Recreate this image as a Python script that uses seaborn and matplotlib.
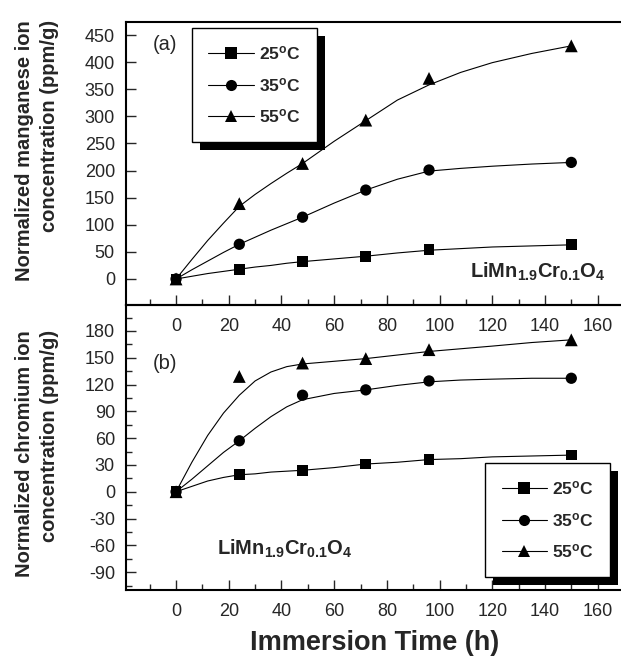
import pandas as pd
import matplotlib
matplotlib.use("Agg")
import matplotlib.pyplot as plt
import matplotlib.patheffects as pe
from matplotlib.lines import Line2D
from matplotlib.ticker import MultipleLocator
import seaborn as sns

# measured points (immersion time in h)
time_h = [0, 24, 48, 72, 96, 150]
mn_25 = [0, 18, 32, 41, 55, 64]
mn_35 = [0, 64, 114, 164, 201, 215]
mn_55 = [0, 139, 213, 293, 370, 430]
cr_25 = [0, 19, 24, 31, 36, 41]
cr_35 = [0, 57, 108, 114, 124, 127]
cr_55 = [0, 129, 144, 149, 159, 170]

# fitted curves
fit_time = [0, 6, 12, 18, 24, 30, 36, 42, 48, 60, 72, 84, 96, 108, 120, 135, 150]
mn_25_fit = [0, 5, 10, 14, 18, 22, 25, 29, 32, 37, 42, 48, 53, 56, 59, 61, 63]
mn_35_fit = [0, 17, 33, 49, 64, 77, 90, 102, 114, 140, 164, 184, 199, 204, 208, 212, 215]
mn_55_fit = [0, 36, 71, 103, 134, 156, 176, 195, 213, 254, 292, 330, 358, 381, 399, 416, 430]
cr_25_fit = [0, 6, 12, 16, 19, 20, 22, 23, 24, 27, 31, 33, 36, 37, 39, 40, 41]
cr_35_fit = [0, 14, 29, 44, 57, 71, 84, 95, 103, 110, 114, 119, 123, 125, 126, 127, 127]
cr_55_fit = [0, 33, 63, 88, 108, 124, 134, 140, 143, 146, 149, 153, 157, 160, 163, 167, 170]

temps = ["25", "35", "55"]
marker_map = {"25": "s", "35": "o", "55": "^"}
size_map = {"25": 60, "35": 66, "55": 85}


def long_df(x, series):
    rows = []
    for t, ys in zip(temps, series):
        for xi, yi in zip(x, ys):
            rows.append({"time": xi, "conc": yi, "temp": t})
    return pd.DataFrame(rows)


mn_pts = long_df(time_h, [mn_25, mn_35, mn_55])
cr_pts = long_df(time_h, [cr_25, cr_35, cr_55])
mn_fit = long_df(fit_time, [mn_25_fit, mn_35_fit, mn_55_fit])
cr_fit = long_df(fit_time, [cr_25_fit, cr_35_fit, cr_55_fit])

sns.set_theme(style="ticks")
plt.rcParams["font.family"] = ["Liberation Sans", "DejaVu Sans"]
plt.rcParams["axes.unicode_minus"] = False
plt.rcParams["mathtext.fontset"] = "custom"
plt.rcParams["mathtext.rm"] = "Liberation Sans"
plt.rcParams["mathtext.bf"] = "Liberation Sans:bold"
plt.rcParams["mathtext.it"] = "Liberation Sans:italic"

W, H = 621, 658
fig = plt.figure(figsize=(W / 100, H / 100), dpi=100)
left = 126 / W
width = (624 - 126) / W
ax_a = fig.add_axes([left, (H - 305) / H, width, 283 / H])
ax_b = fig.add_axes([left, (H - 590) / H, width, 285 / H])
ax_b.patch.set_visible(False)
ax_a.set_zorder(2)
ax_a.patch.set_visible(False)

for ax, pts, fit in [(ax_a, mn_pts, mn_fit), (ax_b, cr_pts, cr_fit)]:
    sns.lineplot(data=fit, x="time", y="conc", units="temp", estimator=None,
                 color="black", lw=0.8, ax=ax, legend=False, sort=False)
    sns.scatterplot(data=pts.iloc[::-1], x="time", y="conc", style="temp", size="temp",
                    markers=marker_map, sizes=size_map, color="black",
                    edgecolor="black", linewidth=0, ax=ax, legend=False, zorder=3)
    ax.set_xlim(-19, 170)
    ax.xaxis.set_major_locator(MultipleLocator(20))
    ax.xaxis.set_minor_locator(MultipleLocator(10))
    ax.tick_params(which="both", direction="in", width=1, labelsize=13,
                   top=False, right=False)
    ax.tick_params(which="major", length=7)
    ax.tick_params(which="minor", length=4)
    ax.tick_params(axis="y", pad=8)
    ax.tick_params(axis="x", pad=9.5)
    ax.set_xlabel("")
    ax.set_ylabel("")
    for s in ["left", "bottom", "top"]:
        ax.spines[s].set_linewidth(1.5)
        ax.spines[s].set_color("black")
    ax.spines["right"].set_visible(False)

ax_a.set_ylim(-48, 474)
ax_a.yaxis.set_major_locator(MultipleLocator(50))
ax_a.yaxis.set_minor_locator(MultipleLocator(50))
ax_b.set_ylim(-110, 209)
ax_b.yaxis.set_major_locator(MultipleLocator(30))
ax_b.yaxis.set_minor_locator(MultipleLocator(15))

# panel tags and compound name
ax_a.text(-8.7, 432, "(a)", fontsize=14.5, va="center", ha="left")
ax_b.text(-9, 144, "(b)", fontsize=14.5, va="center", ha="left")
formula = r"LiMn$_{\mathbf{1.9}}$Cr$_{\mathbf{0.1}}$O$_{\mathbf{4}}$"
ax_a.text(163, 2, formula, fontsize=14.5, fontweight="bold", ha="right", va="baseline")
ax_b.text(15.5, -70, formula, fontsize=14.5, fontweight="bold", ha="left", va="baseline")

# legends with a solid black drop shadow
handles = [Line2D([], [], color="black", lw=0.8, marker=marker_map[t],
                  markersize=9 if t == "55" else 8, markeredgewidth=0)
           for t in temps]
labels = [t + r"$^{\mathbf{o}}$C" for t in temps]
for ax, anchor in [(ax_a, (0.1325, 0.979)), (ax_b, (0.721, 0.446))]:
    leg = ax.legend(handles, labels, loc="upper left", bbox_to_anchor=anchor,
                    borderaxespad=0, frameon=True, fancybox=False, framealpha=1,
                    edgecolor="black", handlelength=2.6, handletextpad=0.3,
                    labelspacing=0.78, borderpad=0.95,
                    prop={"weight": "bold", "size": 12.5})
    frame = leg.get_frame()
    frame.set_linewidth(1.0)
    frame.set_path_effects([pe.withSimplePatchShadow(offset=(6, -6), shadow_rgbFace="black", alpha=1)])

# axis titles
fig.text(37 / W, 1 - 20 / H, "Normalized manganese ion\nconcentration (ppm/g)",
         rotation=90, ha="center", va="top", multialignment="right",
         fontsize=14.5, fontweight="bold", linespacing=1.35)
fig.text(37 / W, 1 - 330 / H, "Normalized chromium ion\nconcentration (ppm/g)",
         rotation=90, ha="center", va="top", multialignment="right",
         fontsize=14.5, fontweight="bold", linespacing=1.35)
fig.text(375 / W, 1 - 643 / H, "Immersion Time (h)", ha="center", va="center",
         fontsize=19.5, fontweight="bold")

fig.savefig("out.png", dpi=100)
